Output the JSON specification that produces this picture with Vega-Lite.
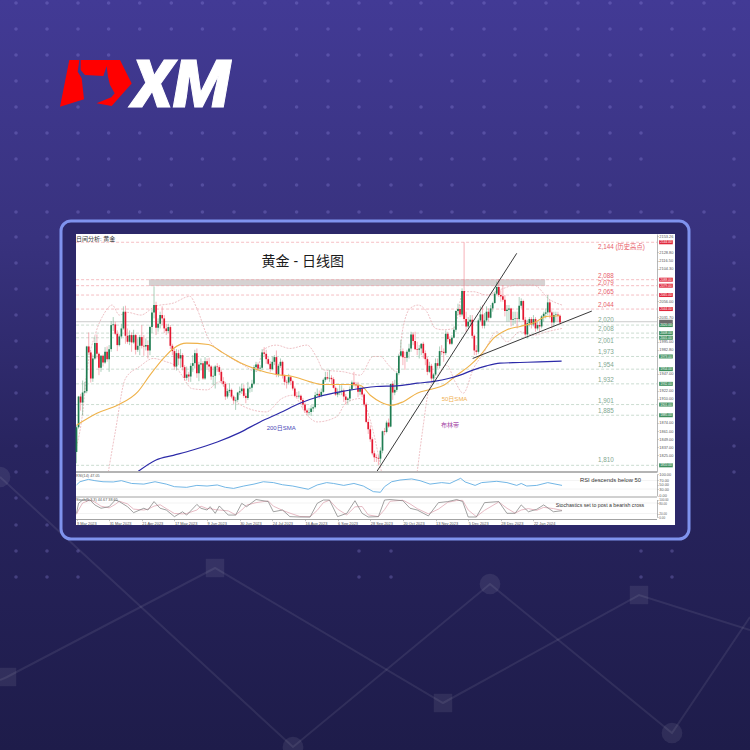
{
"$schema":"https://vega.github.io/schema/vega-lite/v6.json",
"width":750,"height":750,"padding":0,"autosize":{"type":"none"},
"background":"#2a2663",
"view":{"stroke":null},
"resolve":{"scale":{"x":"independent","y":"independent","color":"independent","size":"independent"},"axis":{"x":"independent","y":"independent"}},
"datasets":{
"canvas":[{"u":0,"u2":750,"v":0,"v2":750}],
"panel":[{"u":61,"u2":689,"v":221,"v2":539}],
"paper":[{"u":76,"u2":675,"v":234,"v2":525}],
"seps":[{"u":76,"u2":657,"v":472,"kind":"a"},{"u":76,"u2":657,"v":497,"kind":"b"},{"u":76,"u2":657,"v":519.5,"kind":"b"}],
"net":[{"n":"a","u":0,"v":680},{"n":"a","u":7,"v":677},{"n":"a","u":215,"v":568},{"n":"a","u":443,"v":703},{"n":"a","u":639,"v":595},{"n":"a","u":750,"v":630},{"n":"b","u":0,"v":477},{"n":"b","u":293,"v":747},{"n":"b","u":490,"v":584},{"n":"b","u":672,"v":733},{"n":"b","u":750,"v":617}],
"squares":[{"u":7,"v":677},{"u":215,"v":568},{"u":443,"v":703},{"u":639,"v":595}],
"circles":[{"u":0,"v":477},{"u":293,"v":747},{"u":490,"v":584},{"u":672,"v":733}],
"dots":[
{"u":16,"ys":[3,29,55,81,107,133,159,212,237,263,289,315,341,367,393,419,446,472,498,525,551,577]},
{"u":47,"ys":[3,29,55,81,107,133,159,185,212,237,263,289,315,341,367,393,419,446,472,498,525,551,577]},
{"u":78,"ys":[3,29,55,107,133,159,185,212,551,577]},
{"u":108.6,"ys":[3,29,55,133,159,185,212]},
{"u":139.7,"ys":[3,29,133,159,185,212]},
{"u":171.3,"ys":[3,29,133,159,185,212]},
{"u":202.4,"ys":[3,29,133,159,185,212]},
{"u":234,"ys":[3,29,133,159,185,212]},
{"u":265,"ys":[3,29,81,107,133,159,185,212]},
{"u":296.6,"ys":[3,29,55,81,107,133,159,185,212]},
{"u":328,"ys":[3,29,55,81,107,133,159,185,212]},
{"u":359,"ys":[3,29,55,81,107,133,159,185,212,551,577]},
{"u":391,"ys":[3,29,55,81,107,133,159,185,212,551,577]},
{"u":421,"ys":[3,29,55,107,133,159,185,212]},
{"u":452,"ys":[3,29,55,81,107,133,159,185,212]},
{"u":484,"ys":[3,29,55,81,107,133,159,185,212]},
{"u":515,"ys":[3,29,55,81,133,159,185,212]},
{"u":546,"ys":[3,29,55,81,107,133,159,185,212]},
{"u":578,"ys":[3,29,55,81,107,133,159,185,212]},
{"u":610,"ys":[3,29,55,81,107,133,159,185,212]},
{"u":641,"ys":[3,29,55,81,107,133,159,212,551,577]},
{"u":672,"ys":[3,29,55,81,107,212,551,577]},
{"u":704,"ys":[3,29,55,81,107,212]},
{"u":734,"ys":[3,29,55,81,107,133,159,185,212,237,263,289,315,341,367,393,419,446,472]}
],
"notes":[
{"t":"黄金 - 日线图","u":261.5,"v":262,"kind":"title"},
{"t":"日间分析: 黄金","u":76,"v":238.5,"kind":"small"},
{"t":"200日SMA","u":266.7,"v":428,"kind":"sma200"},
{"t":"50日SMA","u":441.7,"v":398.7,"kind":"sma50"},
{"t":"布林带","u":441,"v":425,"kind":"boll"},
{"t":"RSI descends below 50","u":580,"v":480.3,"kind":"note"},
{"t":"Stochastics set to post a bearish cross","u":555.7,"v":505,"kind":"note2"},
{"t":"RSI(14) 47.05","u":76,"v":475.5,"kind":"tiny"},
{"t":"Stoch(5,3,3) 44.67 38.65","u":76,"v":500,"kind":"tiny"}
],
"levels":[
{"p":2144,"ly":2137,"t":"2,144 (历史高点)","up":1},
{"p":2088,"ly":2094,"t":"2,088","up":1},
{"p":2079,"ly":2083.5,"t":"2,079","up":1},
{"p":2065,"ly":2070,"t":"2,065","up":1},
{"p":2044,"ly":2050.5,"t":"2,044","up":1},
{"p":2020,"ly":2027.6,"t":"2,020","up":0},
{"p":2008,"ly":2013.7,"t":"2,008","up":0},
{"p":2001,"ly":1995.7,"t":"2,001","up":0},
{"p":1973,"ly":1980,"t":"1,973","up":0},
{"p":1954,"ly":1960.7,"t":"1,954","up":0},
{"p":1932,"ly":1938,"t":"1,932","up":0},
{"p":1901,"ly":1906,"t":"1,901","up":0},
{"p":1885,"ly":1891,"t":"1,885","up":0},
{"p":1810,"ly":1818.5,"t":"1,810","up":0}
],
"zone":[{"a":35.5,"b":229.7,"top":2088.6,"bot":2078.6}],
"trend":[{"n":"a","i":147.2,"p":1800.6},{"n":"a","i":215.8,"p":2127.5},{"n":"b","i":194.2,"p":1970},{"n":"b","i":252.6,"p":2041}],
"sma50":[{"i":0,"p":1870},{"i":10,"p":1888},{"i":20,"p":1900},{"i":30,"p":1920},{"i":36,"p":1945},{"i":42.6,"p":1970},{"i":47.5,"p":1985},{"i":54,"p":1993},{"i":64.6,"p":1991},{"i":72,"p":1978},{"i":80,"p":1964},{"i":88,"p":1954},{"i":98,"p":1946},{"i":106,"p":1943},{"i":114.5,"p":1935},{"i":121,"p":1931},{"i":132.5,"p":1931},{"i":139,"p":1930},{"i":144,"p":1915},{"i":149,"p":1905},{"i":154.5,"p":1900},{"i":160,"p":1905},{"i":167,"p":1918},{"i":174,"p":1924},{"i":180,"p":1930},{"i":186.4,"p":1945},{"i":193,"p":1960},{"i":198,"p":1975},{"i":204.4,"p":2000},{"i":211,"p":2013},{"i":217.4,"p":2018},{"i":224,"p":2023},{"i":230.5,"p":2033},{"i":237,"p":2034}],
"sma200":[{"i":30.3,"p":1801},{"i":39,"p":1818},{"i":47.5,"p":1825},{"i":57,"p":1833},{"i":69,"p":1845},{"i":80,"p":1859},{"i":90,"p":1875},{"i":100,"p":1889},{"i":109.5,"p":1903},{"i":119,"p":1913},{"i":129,"p":1920},{"i":139,"p":1925},{"i":147,"p":1928},{"i":157,"p":1929},{"i":167,"p":1933},{"i":176,"p":1936},{"i":182.3,"p":1940},{"i":188,"p":1945},{"i":194.6,"p":1953},{"i":201,"p":1959},{"i":207.6,"p":1963},{"i":217.4,"p":1964},{"i":227,"p":1965},{"i":237.8,"p":1966}],
"boll":[
{"s":"u","i":0,"p":1838},{"s":"u","i":3,"p":1888},{"s":"u","i":5,"p":1948},{"s":"u","i":9.4,"p":2008},{"s":"u","i":13.5,"p":2037},{"s":"u","i":17.5,"p":2050},{"s":"u","i":21,"p":2035},{"s":"u","i":25,"p":2039},{"s":"u","i":31.5,"p":2035},{"s":"u","i":38.5,"p":2048},{"s":"u","i":47.5,"p":2053},{"s":"u","i":55.6,"p":2063},{"s":"u","i":59,"p":2045},{"s":"u","i":64.6,"p":2000},{"s":"u","i":73.6,"p":1975},{"s":"u","i":82,"p":1960},{"s":"u","i":88,"p":1950},{"s":"u","i":91.6,"p":1983},{"s":"u","i":98,"p":1990},{"s":"u","i":104.6,"p":1985},{"s":"u","i":113,"p":1990},{"s":"u","i":118,"p":1970},{"s":"u","i":121,"p":1953},{"s":"u","i":131,"p":1950},{"s":"u","i":139,"p":1945},{"s":"u","i":145.5,"p":1973},{"s":"u","i":149,"p":1973},{"s":"u","i":153,"p":1960},{"s":"u","i":157,"p":1950},{"s":"u","i":160,"p":2015},{"s":"u","i":163.5,"p":2045},{"s":"u","i":167.6,"p":2050},{"s":"u","i":171.7,"p":2040},{"s":"u","i":176,"p":2015},{"s":"u","i":180,"p":2013},{"s":"u","i":185,"p":2015},{"s":"u","i":189.6,"p":2070},{"s":"u","i":194.6,"p":2070},{"s":"u","i":201,"p":2065},{"s":"u","i":207.6,"p":2073},{"s":"u","i":216,"p":2080},{"s":"u","i":224,"p":2080},{"s":"u","i":232,"p":2058},{"s":"u","i":238,"p":2050},
{"s":"l1","i":15.6,"p":1800},{"s":"l1","i":19,"p":1860},{"s":"l1","i":24,"p":1940},{"s":"l1","i":31,"p":1958},{"s":"l1","i":37.6,"p":1970},{"s":"l1","i":44,"p":1965},{"s":"l1","i":48,"p":1960},{"s":"l1","i":51.6,"p":1945},{"s":"l1","i":56.5,"p":1925},{"s":"l1","i":64,"p":1923},{"s":"l1","i":70,"p":1935},{"s":"l1","i":75,"p":1915},{"s":"l1","i":82,"p":1898},{"s":"l1","i":93,"p":1890},{"s":"l1","i":100.6,"p":1910},{"s":"l1","i":106,"p":1915},{"s":"l1","i":113,"p":1885},{"s":"l1","i":118,"p":1875},{"s":"l1","i":127.6,"p":1883},{"s":"l1","i":132,"p":1903},{"s":"l1","i":139,"p":1910},{"s":"l1","i":145.5,"p":1860},{"s":"l1","i":149.5,"p":1800},
{"s":"l2","i":167,"p":1800},{"s":"l2","i":170,"p":1870},{"s":"l2","i":172.5,"p":1920},{"s":"l2","i":177,"p":1945},{"s":"l2","i":181.5,"p":1960},{"s":"l2","i":185.6,"p":1935},{"s":"l2","i":189.6,"p":1918},{"s":"l2","i":194.6,"p":1955},{"s":"l2","i":199.5,"p":1978},{"s":"l2","i":206,"p":2010},{"s":"l2","i":211,"p":1995},{"s":"l2","i":217.4,"p":2010},{"s":"l2","i":224,"p":2005},{"s":"l2","i":230.5,"p":2010},{"s":"l2","i":238,"p":2015}
],
"rsi":[{"i":0,"r":49},{"i":1.7,"r":64},{"i":5.8,"r":75},{"i":9,"r":69},{"i":13,"r":64},{"i":18,"r":63},{"i":22,"r":69},{"i":27,"r":56},{"i":33,"r":53},{"i":38.5,"r":64},{"i":44,"r":53},{"i":48,"r":41},{"i":54,"r":38},{"i":59,"r":47},{"i":64,"r":44},{"i":69,"r":49},{"i":73,"r":38},{"i":77,"r":33},{"i":82,"r":44},{"i":87,"r":53},{"i":91.6,"r":64},{"i":96.5,"r":60},{"i":101,"r":50},{"i":106,"r":44},{"i":113.6,"r":29},{"i":118,"r":49},{"i":122.6,"r":60},{"i":126,"r":56},{"i":131,"r":47},{"i":136,"r":56},{"i":140.6,"r":44},{"i":145.5,"r":18},{"i":149,"r":15},{"i":151,"r":41},{"i":154.5,"r":64},{"i":158.6,"r":72},{"i":164.3,"r":77},{"i":168.4,"r":69},{"i":173.3,"r":53},{"i":179,"r":60},{"i":183,"r":56},{"i":188.3,"r":80},{"i":190.5,"r":63},{"i":195.4,"r":47},{"i":198.6,"r":60},{"i":206,"r":66},{"i":211,"r":60},{"i":215.8,"r":47},{"i":218,"r":56},{"i":220.7,"r":44},{"i":225.6,"r":47},{"i":231,"r":60},{"i":238,"r":47}],
"stoch":[{"i":0,"k":21,"d":15},{"i":1,"k":78,"d":40},{"i":3,"k":97,"d":80},{"i":6.6,"k":97,"d":97},{"i":9,"k":69,"d":85},{"i":12,"k":50,"d":62},{"i":16,"k":59,"d":52},{"i":19,"k":97,"d":72},{"i":21,"k":88,"d":90},{"i":25,"k":59,"d":75},{"i":28,"k":25,"d":45},{"i":33,"k":50,"d":40},{"i":35,"k":40,"d":45},{"i":38,"k":88,"d":62},{"i":41,"k":50,"d":70},{"i":44,"k":40,"d":48},{"i":48,"k":2,"d":20},{"i":52,"k":30,"d":18},{"i":54,"k":11,"d":20},{"i":59,"k":72,"d":40},{"i":61,"k":50,"d":62},{"i":64,"k":40,"d":48},{"i":65.5,"k":59,"d":48},{"i":68,"k":21,"d":42},{"i":70,"k":63,"d":40},{"i":74.4,"k":11,"d":35},{"i":78,"k":11,"d":12},{"i":81,"k":78,"d":40},{"i":83.4,"k":59,"d":68},{"i":88,"k":100,"d":82},{"i":94,"k":88,"d":92},{"i":96.5,"k":30,"d":62},{"i":101,"k":40,"d":38},{"i":104.6,"k":2,"d":22},{"i":109.5,"k":0,"d":3},{"i":114.5,"k":0,"d":1},{"i":118,"k":78,"d":38},{"i":121,"k":97,"d":82},{"i":124,"k":97,"d":96},{"i":128,"k":2,"d":45},{"i":132.5,"k":21,"d":12},{"i":136.5,"k":93,"d":58},{"i":140,"k":21,"d":60},{"i":143,"k":0,"d":12},{"i":148,"k":2,"d":2},{"i":151,"k":97,"d":42},{"i":153.7,"k":100,"d":90},{"i":160,"k":93,"d":96},{"i":163.5,"k":50,"d":75},{"i":167,"k":40,"d":48},{"i":172.5,"k":6,"d":18},{"i":177.4,"k":82,"d":45},{"i":182,"k":88,"d":84},{"i":186.4,"k":100,"d":94},{"i":189.3,"k":88,"d":95},{"i":192,"k":0,"d":40},{"i":196,"k":0,"d":2},{"i":200,"k":82,"d":38},{"i":207,"k":88,"d":86},{"i":211,"k":21,"d":50},{"i":215,"k":21,"d":22},{"i":218,"k":69,"d":40},{"i":221.5,"k":30,"d":48},{"i":225.6,"k":44,"d":38},{"i":229,"k":69,"d":55},{"i":233.8,"k":30,"d":48},{"i":238,"k":36,"d":38}],
"rsiGuides":[{"r":70},{"r":30}],
"stochGuides":[{"k":80},{"k":20}],
"candles":[
{"i":0,"o":1830,"h":1870,"l":1813,"c":1867},{"i":1,"o":1867,"h":1914,"l":1865,"c":1913},{"i":2,"o":1913,"h":1917,"l":1892,"c":1904},{"i":3,"o":1904,"h":1937,"l":1885,"c":1919},{"i":4,"o":1919,"h":1935,"l":1917,"c":1921},{"i":5,"o":1921,"h":1989,"l":1918,"c":1988},{"i":6,"o":1988,"h":2009,"l":1975,"c":1979},{"i":7,"o":1979,"h":1982,"l":1934,"c":1940},{"i":8,"o":1940,"h":1976,"l":1935,"c":1970},{"i":9,"o":1970,"h":2003,"l":1968,"c":1993},
{"i":10,"o":1993,"h":2006,"l":1970,"c":1977},{"i":11,"o":1977,"h":1979,"l":1945,"c":1956},{"i":12,"o":1956,"h":1975,"l":1950,"c":1974},{"i":13,"o":1974,"h":1976,"l":1958,"c":1964},{"i":14,"o":1964,"h":1987,"l":1962,"c":1980},{"i":15,"o":1980,"h":1988,"l":1965,"c":1969},{"i":16,"o":1969,"h":1990,"l":1950,"c":1984},{"i":17,"o":1984,"h":2026,"l":1980,"c":2020},{"i":18,"o":2020,"h":2032,"l":2011,"c":2021},{"i":19,"o":2021,"h":2025,"l":2005,"c":2007},
{"i":20,"o":2007,"h":2012,"l":1981,"c":1990},{"i":21,"o":1990,"h":2006,"l":1988,"c":2003},{"i":22,"o":2003,"h":2022,"l":2000,"c":2015},{"i":23,"o":2015,"h":2048,"l":2013,"c":2040},{"i":24,"o":2040,"h":2049,"l":1992,"c":2004},{"i":25,"o":2004,"h":2015,"l":1992,"c":1995},{"i":26,"o":1995,"h":2012,"l":1990,"c":2005},{"i":27,"o":2005,"h":2009,"l":1980,"c":1994},{"i":28,"o":1994,"h":2013,"l":1992,"c":2005},{"i":29,"o":2005,"h":2007,"l":1976,"c":1983},
{"i":30,"o":1983,"h":2000,"l":1980,"c":1989},{"i":31,"o":1989,"h":2005,"l":1975,"c":2002},{"i":32,"o":2002,"h":2020,"l":1985,"c":1989},{"i":33,"o":1989,"h":2005,"l":1974,"c":1988},{"i":34,"o":1988,"h":2000,"l":1982,"c":1990},{"i":35,"o":1990,"h":1997,"l":1970,"c":1982},{"i":36,"o":1982,"h":2019,"l":1975,"c":2017},{"i":37,"o":2017,"h":2043,"l":2008,"c":2039},{"i":38,"o":2039,"h":2078,"l":2030,"c":2050},{"i":39,"o":2050,"h":2055,"l":2005,"c":2016},
{"i":40,"o":2016,"h":2030,"l":2010,"c":2022},{"i":41,"o":2022,"h":2040,"l":2015,"c":2035},{"i":42,"o":2035,"h":2048,"l":2020,"c":2030},{"i":43,"o":2030,"h":2035,"l":2008,"c":2015},{"i":44,"o":2015,"h":2022,"l":2005,"c":2011},{"i":45,"o":2011,"h":2022,"l":2008,"c":2017},{"i":46,"o":2017,"h":2020,"l":1984,"c":1989},{"i":47,"o":1989,"h":1992,"l":1975,"c":1981},{"i":48,"o":1981,"h":1985,"l":1953,"c":1958},{"i":49,"o":1958,"h":1984,"l":1952,"c":1978},
{"i":50,"o":1978,"h":1983,"l":1960,"c":1970},{"i":51,"o":1970,"h":1984,"l":1956,"c":1975},{"i":52,"o":1975,"h":1978,"l":1952,"c":1957},{"i":53,"o":1957,"h":1960,"l":1937,"c":1941},{"i":54,"o":1941,"h":1958,"l":1937,"c":1946},{"i":55,"o":1946,"h":1950,"l":1935,"c":1943},{"i":56,"o":1943,"h":1963,"l":1935,"c":1959},{"i":57,"o":1959,"h":1975,"l":1950,"c":1963},{"i":58,"o":1963,"h":1983,"l":1955,"c":1978},{"i":59,"o":1978,"h":1985,"l":1941,"c":1948},
{"i":60,"o":1948,"h":1965,"l":1936,"c":1961},{"i":61,"o":1961,"h":1970,"l":1952,"c":1963},{"i":62,"o":1963,"h":1966,"l":1938,"c":1940},{"i":63,"o":1940,"h":1972,"l":1938,"c":1966},{"i":64,"o":1966,"h":1970,"l":1955,"c":1961},{"i":65,"o":1961,"h":1971,"l":1950,"c":1958},{"i":66,"o":1958,"h":1960,"l":1938,"c":1943},{"i":67,"o":1943,"h":1958,"l":1930,"c":1944},{"i":68,"o":1944,"h":1960,"l":1925,"c":1958},{"i":69,"o":1958,"h":1963,"l":1950,"c":1957},
{"i":70,"o":1957,"h":1960,"l":1945,"c":1950},{"i":71,"o":1950,"h":1953,"l":1933,"c":1936},{"i":72,"o":1936,"h":1942,"l":1928,"c":1932},{"i":73,"o":1932,"h":1935,"l":1908,"c":1913},{"i":74,"o":1913,"h":1925,"l":1910,"c":1921},{"i":75,"o":1921,"h":1933,"l":1918,"c":1923},{"i":76,"o":1923,"h":1925,"l":1910,"c":1913},{"i":77,"o":1913,"h":1915,"l":1902,"c":1907},{"i":78,"o":1907,"h":1912,"l":1893,"c":1908},{"i":79,"o":1908,"h":1920,"l":1905,"c":1919},
{"i":80,"o":1919,"h":1928,"l":1915,"c":1921},{"i":81,"o":1921,"h":1932,"l":1917,"c":1925},{"i":82,"o":1925,"h":1931,"l":1911,"c":1914},{"i":83,"o":1914,"h":1918,"l":1903,"c":1911},{"i":84,"o":1911,"h":1935,"l":1908,"c":1925},{"i":85,"o":1925,"h":1928,"l":1919,"c":1926},{"i":86,"o":1926,"h":1938,"l":1920,"c":1932},{"i":87,"o":1932,"h":1960,"l":1930,"c":1957},{"i":88,"o":1957,"h":1965,"l":1950,"c":1961},{"i":89,"o":1961,"h":1964,"l":1951,"c":1955},
{"i":90,"o":1955,"h":1960,"l":1950,"c":1956},{"i":91,"o":1956,"h":1984,"l":1953,"c":1979},{"i":92,"o":1979,"h":1987,"l":1972,"c":1977},{"i":93,"o":1977,"h":1983,"l":1962,"c":1969},{"i":94,"o":1969,"h":1972,"l":1960,"c":1962},{"i":95,"o":1962,"h":1966,"l":1950,"c":1954},{"i":96,"o":1954,"h":1973,"l":1952,"c":1965},{"i":97,"o":1965,"h":1975,"l":1960,"c":1972},{"i":98,"o":1972,"h":1982,"l":1942,"c":1946},{"i":99,"o":1946,"h":1962,"l":1942,"c":1959},
{"i":100,"o":1959,"h":1970,"l":1956,"c":1965},{"i":101,"o":1965,"h":1967,"l":1940,"c":1944},{"i":102,"o":1944,"h":1946,"l":1930,"c":1935},{"i":103,"o":1935,"h":1938,"l":1925,"c":1934},{"i":104,"o":1934,"h":1947,"l":1931,"c":1942},{"i":105,"o":1942,"h":1944,"l":1930,"c":1936},{"i":106,"o":1936,"h":1938,"l":1922,"c":1925},{"i":107,"o":1925,"h":1928,"l":1912,"c":1914},{"i":108,"o":1914,"h":1920,"l":1911,"c":1913},{"i":109,"o":1913,"h":1921,"l":1910,"c":1914},
{"i":110,"o":1914,"h":1916,"l":1902,"c":1908},{"i":111,"o":1908,"h":1911,"l":1895,"c":1901},{"i":112,"o":1901,"h":1904,"l":1889,"c":1892},{"i":113,"o":1892,"h":1895,"l":1885,"c":1889},{"i":114,"o":1889,"h":1896,"l":1885,"c":1890},{"i":115,"o":1890,"h":1900,"l":1884,"c":1895},{"i":116,"o":1895,"h":1900,"l":1890,"c":1897},{"i":117,"o":1897,"h":1920,"l":1895,"c":1915},{"i":118,"o":1915,"h":1925,"l":1912,"c":1917},{"i":119,"o":1917,"h":1922,"l":1910,"c":1914},
{"i":120,"o":1914,"h":1925,"l":1912,"c":1920},{"i":121,"o":1920,"h":1940,"l":1918,"c":1938},{"i":122,"o":1938,"h":1950,"l":1935,"c":1942},{"i":123,"o":1942,"h":1950,"l":1938,"c":1940},{"i":124,"o":1940,"h":1953,"l":1935,"c":1941},{"i":125,"o":1941,"h":1945,"l":1930,"c":1939},{"i":126,"o":1939,"h":1942,"l":1925,"c":1926},{"i":127,"o":1926,"h":1928,"l":1914,"c":1916},{"i":128,"o":1916,"h":1925,"l":1912,"c":1919},{"i":129,"o":1919,"h":1930,"l":1915,"c":1920},
{"i":130,"o":1920,"h":1930,"l":1915,"c":1922},{"i":131,"o":1922,"h":1925,"l":1905,"c":1913},{"i":132,"o":1913,"h":1917,"l":1901,"c":1908},{"i":133,"o":1908,"h":1912,"l":1902,"c":1910},{"i":134,"o":1910,"h":1928,"l":1906,"c":1924},{"i":135,"o":1924,"h":1937,"l":1922,"c":1934},{"i":136,"o":1934,"h":1950,"l":1928,"c":1931},{"i":137,"o":1931,"h":1935,"l":1925,"c":1930},{"i":138,"o":1930,"h":1935,"l":1912,"c":1920},{"i":139,"o":1920,"h":1930,"l":1915,"c":1925},
{"i":140,"o":1925,"h":1927,"l":1912,"c":1916},{"i":141,"o":1916,"h":1918,"l":1898,"c":1901},{"i":142,"o":1901,"h":1904,"l":1873,"c":1875},{"i":143,"o":1875,"h":1880,"l":1857,"c":1864},{"i":144,"o":1864,"h":1870,"l":1845,"c":1849},{"i":145,"o":1849,"h":1852,"l":1825,"c":1828},{"i":146,"o":1828,"h":1832,"l":1815,"c":1822},{"i":147,"o":1822,"h":1826,"l":1815,"c":1821},{"i":148,"o":1821,"h":1825,"l":1810,"c":1820},{"i":149,"o":1820,"h":1837,"l":1813,"c":1832},
{"i":150,"o":1832,"h":1862,"l":1828,"c":1861},{"i":151,"o":1861,"h":1866,"l":1855,"c":1860},{"i":152,"o":1860,"h":1877,"l":1858,"c":1874},{"i":153,"o":1874,"h":1880,"l":1866,"c":1868},{"i":154,"o":1868,"h":1932,"l":1867,"c":1932},{"i":155,"o":1932,"h":1936,"l":1908,"c":1919},{"i":156,"o":1919,"h":1938,"l":1915,"c":1923},{"i":157,"o":1923,"h":1950,"l":1920,"c":1948},{"i":158,"o":1948,"h":1977,"l":1945,"c":1974},{"i":159,"o":1974,"h":1998,"l":1972,"c":1981},
{"i":160,"o":1981,"h":1985,"l":1960,"c":1972},{"i":161,"o":1972,"h":1980,"l":1953,"c":1971},{"i":162,"o":1971,"h":1983,"l":1965,"c":1980},{"i":163,"o":1980,"h":1992,"l":1970,"c":1985},{"i":164,"o":1985,"h":2010,"l":1980,"c":2006},{"i":165,"o":2006,"h":2009,"l":1990,"c":1996},{"i":166,"o":1996,"h":2010,"l":1983,"c":1984},{"i":167,"o":1984,"h":1995,"l":1975,"c":1983},{"i":168,"o":1983,"h":1990,"l":1970,"c":1985},{"i":169,"o":1985,"h":1993,"l":1975,"c":1992},
{"i":170,"o":1992,"h":1995,"l":1970,"c":1978},{"i":171,"o":1978,"h":1982,"l":1960,"c":1969},{"i":172,"o":1969,"h":1972,"l":1945,"c":1950},{"i":173,"o":1950,"h":1965,"l":1948,"c":1959},{"i":174,"o":1959,"h":1962,"l":1935,"c":1940},{"i":175,"o":1940,"h":1948,"l":1932,"c":1946},{"i":176,"o":1946,"h":1970,"l":1944,"c":1963},{"i":177,"o":1963,"h":1970,"l":1955,"c":1959},{"i":178,"o":1959,"h":1988,"l":1955,"c":1981},{"i":179,"o":1981,"h":1990,"l":1975,"c":1980},
{"i":180,"o":1980,"h":1985,"l":1965,"c":1978},{"i":181,"o":1978,"h":2012,"l":1975,"c":2007},{"i":182,"o":2007,"h":2010,"l":1995,"c":1999},{"i":183,"o":1999,"h":2003,"l":1990,"c":1992},{"i":184,"o":1992,"h":2005,"l":1990,"c":2001},{"i":185,"o":2001,"h":2018,"l":2000,"c":2013},{"i":186,"o":2013,"h":2042,"l":2010,"c":2041},{"i":187,"o":2041,"h":2052,"l":2035,"c":2044},{"i":188,"o":2044,"h":2050,"l":2032,"c":2036},{"i":189,"o":2036,"h":2075,"l":2033,"c":2071},
{"i":190,"o":2071,"h":2144,"l":2025,"c":2029},{"i":191,"o":2029,"h":2040,"l":2010,"c":2018},{"i":192,"o":2018,"h":2032,"l":2015,"c":2025},{"i":193,"o":2025,"h":2035,"l":2020,"c":2028},{"i":194,"o":2028,"h":2035,"l":2000,"c":2004},{"i":195,"o":2004,"h":2006,"l":1975,"c":1982},{"i":196,"o":1982,"h":1990,"l":1975,"c":1980},{"i":197,"o":1980,"h":2030,"l":1977,"c":2027},{"i":198,"o":2027,"h":2048,"l":2025,"c":2036},{"i":199,"o":2036,"h":2050,"l":2015,"c":2019},
{"i":200,"o":2019,"h":2038,"l":2015,"c":2027},{"i":201,"o":2027,"h":2048,"l":2025,"c":2040},{"i":202,"o":2040,"h":2045,"l":2025,"c":2031},{"i":203,"o":2031,"h":2050,"l":2030,"c":2045},{"i":204,"o":2045,"h":2055,"l":2040,"c":2053},{"i":205,"o":2053,"h":2070,"l":2052,"c":2067},{"i":206,"o":2067,"h":2085,"l":2065,"c":2077},{"i":207,"o":2077,"h":2089,"l":2062,"c":2065},{"i":208,"o":2065,"h":2072,"l":2055,"c":2063},{"i":209,"o":2063,"h":2080,"l":2055,"c":2058},
{"i":210,"o":2058,"h":2065,"l":2033,"c":2041},{"i":211,"o":2041,"h":2050,"l":2025,"c":2043},{"i":212,"o":2043,"h":2050,"l":2025,"c":2045},{"i":213,"o":2045,"h":2046,"l":2018,"c":2028},{"i":214,"o":2028,"h":2040,"l":2020,"c":2029},{"i":215,"o":2029,"h":2040,"l":2022,"c":2030},{"i":216,"o":2030,"h":2040,"l":2015,"c":2029},{"i":217,"o":2029,"h":2062,"l":2025,"c":2049},{"i":218,"o":2049,"h":2060,"l":2045,"c":2056},{"i":219,"o":2056,"h":2058,"l":2025,"c":2028},
{"i":220,"o":2028,"h":2032,"l":2002,"c":2006},{"i":221,"o":2006,"h":2028,"l":2000,"c":2023},{"i":222,"o":2023,"h":2032,"l":2018,"c":2029},{"i":223,"o":2029,"h":2032,"l":2015,"c":2021},{"i":224,"o":2021,"h":2035,"l":2018,"c":2029},{"i":225,"o":2029,"h":2032,"l":2010,"c":2015},{"i":226,"o":2015,"h":2025,"l":2012,"c":2020},{"i":227,"o":2020,"h":2025,"l":2010,"c":2018},{"i":228,"o":2018,"h":2035,"l":2015,"c":2033},{"i":229,"o":2033,"h":2040,"l":2025,"c":2037},
{"i":230,"o":2037,"h":2045,"l":2030,"c":2039},{"i":231,"o":2039,"h":2065,"l":2035,"c":2054},{"i":232,"o":2054,"h":2058,"l":2030,"c":2039},{"i":233,"o":2039,"h":2042,"l":2015,"c":2024},{"i":234,"o":2024,"h":2040,"l":2018,"c":2035},{"i":235,"o":2035,"h":2040,"l":2025,"c":2036},{"i":236,"o":2036,"h":2040,"l":2025,"c":2034},{"i":237,"o":2034,"h":2036,"l":2020,"c":2024}
]
},
"layer":[
{"data":{"name":"canvas"},"mark":{"type":"rect","fill":{"gradient":"linear","x1":0,"y1":0,"x2":0,"y2":1,"stops":[{"offset":0,"color":"#423a95"},{"offset":0.32,"color":"#38327e"},{"offset":0.6,"color":"#28245f"},{"offset":1,"color":"#1e1c4a"}]}},
 "encoding":{"x":{"field":"u","type":"quantitative","scale":{"domain":[0,750],"range":[0,750],"nice":false,"zero":false},"axis":null},"x2":{"field":"u2"},"y":{"field":"v","type":"quantitative","scale":{"domain":[0,750],"range":[0,750],"nice":false,"zero":false},"axis":null},"y2":{"field":"v2"}}},
{"data":{"name":"net"},"mark":{"type":"line","stroke":"#ffffff","strokeOpacity":0.08,"strokeWidth":2},
 "encoding":{"x":{"field":"u","type":"quantitative","scale":{"domain":[0,750],"range":[0,750],"nice":false,"zero":false},"axis":null},"y":{"field":"v","type":"quantitative","scale":{"domain":[0,750],"range":[0,750],"nice":false,"zero":false},"axis":null},"detail":{"field":"n"},"order":{"field":"u"}}},
{"data":{"name":"squares"},"mark":{"type":"point","shape":"square","filled":true,"size":340,"fill":"#ffffff","opacity":1,"fillOpacity":0.08,"stroke":null},
 "encoding":{"x":{"field":"u","type":"quantitative","scale":{"domain":[0,750],"range":[0,750],"nice":false,"zero":false},"axis":null},"y":{"field":"v","type":"quantitative","scale":{"domain":[0,750],"range":[0,750],"nice":false,"zero":false},"axis":null}}},
{"data":{"name":"circles"},"mark":{"type":"point","shape":"circle","filled":true,"size":430,"fill":"#ffffff","opacity":1,"fillOpacity":0.08,"stroke":null},
 "encoding":{"x":{"field":"u","type":"quantitative","scale":{"domain":[0,750],"range":[0,750],"nice":false,"zero":false},"axis":null},"y":{"field":"v","type":"quantitative","scale":{"domain":[0,750],"range":[0,750],"nice":false,"zero":false},"axis":null}}},
{"data":{"name":"dots"},"transform":[{"flatten":["ys"]}],"mark":{"type":"point","shape":"circle","filled":true,"size":13,"fill":"#9a95ea","opacity":1,"fillOpacity":0.28,"stroke":null},
 "encoding":{"x":{"field":"u","type":"quantitative","scale":{"domain":[0,750],"range":[0,750],"nice":false,"zero":false},"axis":null},"y":{"field":"ys","type":"quantitative","scale":{"domain":[0,750],"range":[0,750],"nice":false,"zero":false},"axis":null}}},
{"data":{"values":[{"u":96,"v":83.5}]},"mark":{"type":"point","filled":true,"size":5184,"fill":"#ff0000","opacity":1,"stroke":null,"shape":"M-.741,-.653L-.463,-.653L-.509,-.329L-.398,-.144L-.333,.44L-1,.644ZM-.426,-.653L.667,-.653L.991,0L.435,.625L.018,.551L.426,.384L.519,.273L.389,.042L.333,-.19L.296,-.486L.204,-.208L-.306,-.236L-.426,-.375Z"},
 "encoding":{"x":{"field":"u","type":"quantitative","scale":{"domain":[0,750],"range":[0,750],"nice":false,"zero":false},"axis":null},"y":{"field":"v","type":"quantitative","scale":{"domain":[0,750],"range":[0,750],"nice":false,"zero":false},"axis":null}}},
{"data":{"values":[{"t":"XM","u":181,"v":107}]},"mark":{"type":"text","font":"Roboto","fontWeight":900,"fontStyle":"italic","fontSize":67,"fill":"#ffffff","stroke":"#ffffff","strokeWidth":1,"align":"center","baseline":"alphabetic"},
 "encoding":{"text":{"field":"t"},"x":{"field":"u","type":"quantitative","scale":{"domain":[0,750],"range":[0,750],"nice":false,"zero":false},"axis":null},"y":{"field":"v","type":"quantitative","scale":{"domain":[0,750],"range":[0,750],"nice":false,"zero":false},"axis":null}}},
{"data":{"name":"panel"},"mark":{"type":"rect","fill":"#2c2869","stroke":"#7f93ee","strokeWidth":3,"cornerRadius":10},
 "encoding":{"x":{"field":"u","type":"quantitative","scale":{"domain":[0,750],"range":[0,750],"nice":false,"zero":false},"axis":null},"x2":{"field":"u2"},"y":{"field":"v","type":"quantitative","scale":{"domain":[0,750],"range":[0,750],"nice":false,"zero":false},"axis":null},"y2":{"field":"v2"}}},
{"data":{"name":"paper"},"mark":{"type":"rect","fill":"#ffffff"},
 "encoding":{"x":{"field":"u","type":"quantitative","scale":{"domain":[0,750],"range":[0,750],"nice":false,"zero":false},"axis":null},"x2":{"field":"u2"},"y":{"field":"v","type":"quantitative","scale":{"domain":[0,750],"range":[0,750],"nice":false,"zero":false},"axis":null},"y2":{"field":"v2"}}},
{"data":{"name":"zone"},"mark":{"type":"rect","fill":"#d6d2d2"},
 "encoding":{"x":{"field":"a","type":"quantitative","scale":{"domain":[0,240],"range":[76.5,566.1],"nice":false,"zero":false},"axis":null},"x2":{"field":"b"},"y":{"field":"top","type":"quantitative","scale":{"domain":[1800,2156.4],"range":[472,234],"nice":false,"zero":false},"axis":null},"y2":{"field":"bot"}}},
{"data":{"name":"levels"},"mark":{"type":"rule","strokeWidth":0.7,"strokeDash":[3,2]},
 "encoding":{"x":{"datum":-0.2,"type":"quantitative","scale":{"domain":[0,240],"range":[76.5,566.1],"nice":false,"zero":false},"axis":null},"x2":{"datum":284.6},"y":{"field":"p","type":"quantitative","scale":{"domain":[1800,2156.4],"range":[472,234],"nice":false,"zero":false},"axis":null},"color":{"condition":{"test":"datum.up==1","value":"#f0a3aa"},"value":"#b5cdbd"}}},
{"data":{"values":[{"p":2025}]},"mark":{"type":"rule","strokeWidth":0.7,"color":"#b4b4b4"},
 "encoding":{"x":{"datum":-0.2,"type":"quantitative","scale":{"domain":[0,240],"range":[76.5,566.1],"nice":false,"zero":false},"axis":null},"x2":{"datum":284.6},"y":{"field":"p","type":"quantitative","scale":{"domain":[1800,2156.4],"range":[472,234],"nice":false,"zero":false},"axis":null}}},
{"data":{"name":"boll"},"mark":{"type":"line","stroke":"#e7a8ae","strokeWidth":0.7,"strokeDash":[2,1.2],"interpolate":"monotone"},
 "encoding":{"x":{"field":"i","type":"quantitative","scale":{"domain":[0,240],"range":[76.5,566.1],"nice":false,"zero":false},"axis":null},"y":{"field":"p","type":"quantitative","scale":{"domain":[1800,2156.4],"range":[472,234],"nice":false,"zero":false},"axis":null},"detail":{"field":"s"}}},
{"data":{"name":"candles"},"mark":{"type":"rule","strokeWidth":0.7,"opacity":0.75},
 "encoding":{"x":{"field":"i","type":"quantitative","scale":{"domain":[0,240],"range":[76.5,566.1],"nice":false,"zero":false},"axis":{"orient":"bottom","offset":-230.5,"values":[0,16,32,48,64,80,96,112,128,144,160,176,192,208,224],"labelExpr":"['9 Mar 2023','31 Mar 2023','21 Apr 2023','17 May 2023','9 Jun 2023','30 Jun 2023','24 Jul 2023','16 Aug 2023','6 Sep 2023','28 Sep 2023','20 Oct 2023','13 Nov 2023','5 Dec 2023','28 Dec 2023','22 Jan 2024'][datum.value/16]","labelAlign":"left","labelFontSize":3.9,"labelColor":"#555555","labelFont":"Liberation Sans","labelPadding":0.3,"labelOverlap":false,"labelBound":false,"labelFlush":false,"tickSize":1.2,"tickColor":"#888888","tickWidth":0.5,"domain":false,"grid":false,"title":null,"zindex":1}},
  "y":{"field":"h","type":"quantitative","scale":{"domain":[1800,2156.4],"range":[472,234],"nice":false,"zero":false},"axis":{"orient":"right","offset":-93,"values":[2153.26,2128.8,2116.5,2104.3,2056,2031.7,1995,1982.8,1947,1922,1910,1874,1861,1849,1837,1825],"format":".2f","labelFontSize":3.9,"labelColor":"#555555","labelFont":"Liberation Sans","labelPadding":0.6,"labelOverlap":false,"labelBound":false,"labelFlush":false,"tickSize":1.2,"tickColor":"#888888","tickWidth":0.5,"domainColor":"#999999","domainWidth":0.7,"grid":false,"title":null,"zindex":1}},
  "y2":{"field":"l"},
  "color":{"condition":{"test":"datum.c>=datum.o","value":"#5ea67f"},"value":"#ef6d7a"}}},
{"data":{"name":"candles"},"mark":{"type":"rule","strokeWidth":1.7},
 "encoding":{"x":{"field":"i","type":"quantitative","scale":{"domain":[0,240],"range":[76.5,566.1],"nice":false,"zero":false},"axis":null},"y":{"field":"o","type":"quantitative","scale":{"domain":[1800,2156.4],"range":[472,234],"nice":false,"zero":false},"axis":null},"y2":{"field":"c"},"color":{"condition":{"test":"datum.c>=datum.o","value":"#1f7d52"},"value":"#e3162f"}}},
{"data":{"name":"sma50"},"mark":{"type":"line","stroke":"#efb24a","strokeWidth":1.1,"interpolate":"monotone"},
 "encoding":{"x":{"field":"i","type":"quantitative","scale":{"domain":[0,240],"range":[76.5,566.1],"nice":false,"zero":false},"axis":null},"y":{"field":"p","type":"quantitative","scale":{"domain":[1800,2156.4],"range":[472,234],"nice":false,"zero":false},"axis":null}}},
{"data":{"name":"sma200"},"mark":{"type":"line","stroke":"#2c2aa8","strokeWidth":1.2,"interpolate":"monotone"},
 "encoding":{"x":{"field":"i","type":"quantitative","scale":{"domain":[0,240],"range":[76.5,566.1],"nice":false,"zero":false},"axis":null},"y":{"field":"p","type":"quantitative","scale":{"domain":[1800,2156.4],"range":[472,234],"nice":false,"zero":false},"axis":null}}},
{"data":{"name":"trend"},"mark":{"type":"line","stroke":"#222222","strokeWidth":0.9},
 "encoding":{"x":{"field":"i","type":"quantitative","scale":{"domain":[0,240],"range":[76.5,566.1],"nice":false,"zero":false},"axis":null},"y":{"field":"p","type":"quantitative","scale":{"domain":[1800,2156.4],"range":[472,234],"nice":false,"zero":false},"axis":null},"detail":{"field":"n"}}},
{"data":{"name":"levels"},"mark":{"type":"text","fontSize":6.3,"font":"Liberation Sans, Noto Sans CJK SC","align":"left","baseline":"middle"},
 "encoding":{"text":{"field":"t"},"x":{"datum":255.6,"type":"quantitative","scale":{"domain":[0,240],"range":[76.5,566.1],"nice":false,"zero":false},"axis":null},"y":{"field":"ly","type":"quantitative","scale":{"domain":[1800,2156.4],"range":[472,234],"nice":false,"zero":false},"axis":null},"color":{"condition":{"test":"datum.up==1","value":"#e8606a"},"value":"#7fa78f"}}},
{"data":{"name":"levels"},"mark":{"type":"rule","strokeWidth":4},
 "encoding":{"x":{"datum":285.6,"type":"quantitative","scale":{"domain":[0,240],"range":[76.5,566.1],"nice":false,"zero":false},"axis":null},"x2":{"datum":292.3},"y":{"field":"p","type":"quantitative","scale":{"domain":[1800,2156.4],"range":[472,234],"nice":false,"zero":false},"axis":null},"color":{"condition":{"test":"datum.up==1","value":"#e0283c"},"value":"#3f8f5f"}}},
{"data":{"values":[{"p":2025}]},"mark":{"type":"rule","strokeWidth":4,"color":"#6d6d6d"},
 "encoding":{"x":{"datum":285.6,"type":"quantitative","scale":{"domain":[0,240],"range":[76.5,566.1],"nice":false,"zero":false},"axis":null},"x2":{"datum":292.3},"y":{"field":"p","type":"quantitative","scale":{"domain":[1800,2156.4],"range":[472,234],"nice":false,"zero":false},"axis":null}}},
{"data":{"name":"levels"},"mark":{"type":"text","fontSize":3.2,"font":"Liberation Sans","align":"center","baseline":"middle","fill":"#ffffff"},
 "encoding":{"text":{"field":"p","format":".2f"},"x":{"datum":289,"type":"quantitative","scale":{"domain":[0,240],"range":[76.5,566.1],"nice":false,"zero":false},"axis":null},"y":{"field":"p","type":"quantitative","scale":{"domain":[1800,2156.4],"range":[472,234],"nice":false,"zero":false},"axis":null}}},
{"data":{"name":"rsiGuides"},"mark":{"type":"rule","strokeWidth":0.5,"color":"#e6e6e6"},
 "encoding":{"x":{"datum":-0.2,"type":"quantitative","scale":{"domain":[0,240],"range":[76.5,566.1],"nice":false,"zero":false},"axis":null},"x2":{"datum":284.6},"y":{"field":"r","type":"quantitative","scale":{"domain":[0,100],"range":[495.5,474],"nice":false,"zero":false},"axis":{"orient":"right","offset":-93,"values":[100,70,50,30,0],"format":".2f","labelFontSize":3.9,"labelColor":"#555555","labelFont":"Liberation Sans","labelPadding":0.6,"labelOverlap":false,"labelBound":false,"tickSize":1.2,"tickColor":"#888888","tickWidth":0.5,"domainColor":"#999999","domainWidth":0.7,"grid":false,"title":null,"zindex":1}}}},
{"data":{"name":"rsi"},"mark":{"type":"line","stroke":"#62aee2","strokeWidth":0.9},
 "encoding":{"x":{"field":"i","type":"quantitative","scale":{"domain":[0,240],"range":[76.5,566.1],"nice":false,"zero":false},"axis":null},"y":{"field":"r","type":"quantitative","scale":{"domain":[0,100],"range":[495.5,474],"nice":false,"zero":false},"axis":null}}},
{"data":{"name":"stochGuides"},"mark":{"type":"rule","strokeWidth":0.5,"color":"#e6e6e6"},
 "encoding":{"x":{"datum":-0.2,"type":"quantitative","scale":{"domain":[0,240],"range":[76.5,566.1],"nice":false,"zero":false},"axis":null},"x2":{"datum":284.6},"y":{"field":"k","type":"quantitative","scale":{"domain":[0,100],"range":[517,499.5],"nice":false,"zero":false},"axis":{"orient":"right","offset":-93,"values":[100,80,20,0],"format":".2f","labelFontSize":3,"labelColor":"#555555","labelFont":"Liberation Sans","labelPadding":0.6,"labelOverlap":false,"labelBound":false,"tickSize":1.2,"tickColor":"#888888","tickWidth":0.5,"domainColor":"#999999","domainWidth":0.7,"grid":false,"title":null,"zindex":1}}}},
{"data":{"name":"stoch"},"mark":{"type":"line","stroke":"#dfa9b5","strokeWidth":0.8},
 "encoding":{"x":{"field":"i","type":"quantitative","scale":{"domain":[0,240],"range":[76.5,566.1],"nice":false,"zero":false},"axis":null},"y":{"field":"d","type":"quantitative","scale":{"domain":[0,100],"range":[517,499.5],"nice":false,"zero":false},"axis":null}}},
{"data":{"name":"stoch"},"mark":{"type":"line","stroke":"#7a7a7a","strokeWidth":0.7},
 "encoding":{"x":{"field":"i","type":"quantitative","scale":{"domain":[0,240],"range":[76.5,566.1],"nice":false,"zero":false},"axis":null},"y":{"field":"k","type":"quantitative","scale":{"domain":[0,100],"range":[517,499.5],"nice":false,"zero":false},"axis":null}}},
{"data":{"name":"seps"},"mark":{"type":"rule"},
 "encoding":{"x":{"field":"u","type":"quantitative","scale":{"domain":[0,750],"range":[0,750],"nice":false,"zero":false},"axis":null},"x2":{"field":"u2"},"y":{"field":"v","type":"quantitative","scale":{"domain":[0,750],"range":[0,750],"nice":false,"zero":false},"axis":null},"strokeWidth":{"field":"kind","type":"nominal","scale":{"domain":["a","b"],"range":[1.8,0.8]},"legend":null},"color":{"field":"kind","type":"nominal","scale":{"domain":["a","b"],"range":["#b4b4b4","#8c8c8c"]},"legend":null}}},
{"data":{"name":"notes"},"mark":{"type":"text","font":"Liberation Sans, Noto Sans CJK SC","align":"left","baseline":"middle"},
 "encoding":{"text":{"field":"t"},"x":{"field":"u","type":"quantitative","scale":{"domain":[0,750],"range":[0,750],"nice":false,"zero":false},"axis":null},"y":{"field":"v","type":"quantitative","scale":{"domain":[0,750],"range":[0,750],"nice":false,"zero":false},"axis":null},
  "size":{"field":"kind","type":"nominal","scale":{"type":"ordinal","domain":["title","small","sma200","sma50","boll","note","note2","tiny"],"range":[14,6,6,6,6,5.8,5.2,3.8]},"legend":null},
  "color":{"field":"kind","type":"nominal","scale":{"domain":["title","small","sma200","sma50","boll","note","note2","tiny"],"range":["#1c1c1c","#333333","#4a4ab8","#efb050","#a23ea2","#333333","#333333","#555555"]},"legend":null}}}
]
}
